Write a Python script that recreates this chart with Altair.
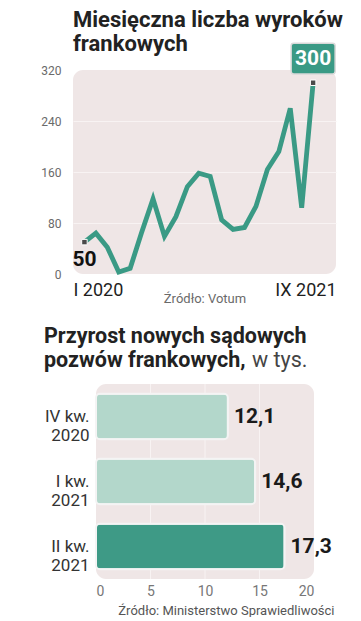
import altair as alt
import pandas as pd

# ---------------- data ----------------
month_labels = ["I 2020", "II 2020", "III 2020", "IV 2020", "V 2020", "VI 2020",
                "VII 2020", "VIII 2020", "IX 2020", "X 2020", "XI 2020", "XII 2020",
                "I 2021", "II 2021", "III 2021", "IV 2021", "V 2021", "VI 2021",
                "VII 2021", "VIII 2021", "IX 2021"]
verdicts = [50, 64, 42, 3, 9, 65, 118, 59, 90, 137, 158, 153,
            85, 70, 73, 106, 164, 192, 260, 104, 300]
y_ticks = [0, 80, 160, 240, 320]

quarters = ["IV kw.|2020", "I kw.|2021", "II kw.|2021"]
lawsuits = [12.1, 14.6, 17.3]
bar_colors = ["#b3d7cb", "#b3d7cb", "#3e9a86"]
x_ticks = [0, 5, 10, 15, 20]

title_top = ["Miesięczna liczba wyroków", "frankowych"]
title_bottom = ["Przyrost nowych sądowych", "pozwów frankowych,"]
unit_text = ["w tys."]
source_top = "Źródło: Votum"
source_bottom = "Źródło: Ministerstwo Sprawiedliwości"

TEAL = "#3a9a85"
BG = "#efe6e6"
GRID = "#f8f3f3"
FONT = "Roboto"
INK = "#222222"


def text_line(txt, x, y, size, weight="bold", color=INK):
    return alt.Chart(pd.DataFrame({"t": [txt]})).mark_text(
        align="left", baseline="alphabetic", fontSize=size, fontWeight=weight,
        color=color, font=FONT,
    ).encode(text="t:N", x=alt.value(x), y=alt.value(y))


# ---------------- top: line chart ----------------
n = len(verdicts)
line_df = pd.DataFrame({"idx": list(range(n)), "month": month_labels, "value": verdicts})
line_df["label"] = line_df["value"].astype(str)

x_enc = alt.X(
    "idx:Q",
    scale=alt.Scale(domain=[-1, n + 1], nice=False, zero=False),
    axis=alt.Axis(
        values=[-1, n + 1],
        labelExpr=f"datum.value < 0 ? '{month_labels[0]}' : '{month_labels[-1]}'",
        labelFlush=True, labelOverlap=False, grid=False, ticks=False, domain=False,
        labelFontSize=18, labelColor="#1e1e1e", labelPadding=7, labelFont=FONT,
        title=source_top, titleFontSize=13, titleFontWeight="normal", titleColor="#6a6a6a",
        titleFont=FONT, titleY=28, titleBaseline="alphabetic",
    ),
)
y_enc = alt.Y(
    "value:Q",
    scale=alt.Scale(domain=[0, 320], nice=False),
    axis=alt.Axis(
        values=y_ticks, title=None, domain=False, ticks=False, labelPadding=12,
        labelFontSize=12, labelColor="#6a6a6a", gridColor=GRID, gridWidth=1,
        gridOpacity=alt.expr("datum.value == 0 || datum.value == 320 ? 0 : 1"),
    ),
)

base = alt.Chart(line_df).encode(x=x_enc, y=y_enc)
line = base.mark_line(color=TEAL, strokeWidth=4.8)
ends = base.transform_filter(f"datum.idx == 0 || datum.idx == {n-1}").mark_point(
    shape="square", size=30, filled=True, fill="#4a4a4a", stroke="white", strokeWidth=1, opacity=1)
first_lbl = base.transform_filter("datum.idx == 0").mark_text(
    dy=18, fontSize=21, fontWeight="bold", color="#111111", font=FONT).encode(text="label:N")
BOX = ("M-0.88,-1.8 L0.88,-1.8 Q1,-1.8 1,-1.68 L1,-0.52 Q1,-0.4 0.88,-0.4 "
       "L-0.88,-0.4 Q-1,-0.4 -1,-0.52 L-1,-1.68 Q-1,-1.8 -0.88,-1.8 Z")
box = base.transform_filter(f"datum.idx == {n-1}").mark_point(
    shape=BOX, size=1936, filled=True, fill=TEAL, stroke="#d9d9d9", strokeWidth=1.5, opacity=1)
last_lbl = base.transform_filter(f"datum.idx == {n-1}").mark_text(
    dy=-24, fontSize=21, fontWeight="bold", color="white", font=FONT).encode(text="label:N")

t_top1 = text_line(title_top[0], 0, -43, 22)
t_top2 = text_line(title_top[1], 0, -19, 22)

top = alt.layer(line, ends, first_lbl, box, last_lbl, t_top1, t_top2).properties(
    width=263, height=204,
    view=alt.ViewBackground(fill=BG, stroke=None, cornerRadius=10),
)

# ---------------- bottom: bar chart ----------------
bar_df = pd.DataFrame({"quarter": quarters, "value": lawsuits, "color": bar_colors})
bar_df["label"] = [f"{v:.1f}".replace(".", ",") for v in lawsuits]

B_W = 241           # plot group width (includes the indent of the bar panel)
B_IND = 23          # indent of the bar panel inside the group
bscale = alt.Scale(domain=[x_ticks[0], x_ticks[-1]], range=[B_IND, B_W], nice=False)

bx = alt.X(
    "value:Q",
    scale=bscale,
    axis=alt.Axis(
        values=x_ticks, domain=False, ticks=False, grid=False, labelPadding=5, labelFontSize=14,
        labelColor="#777777",
        title=source_bottom, titleFontSize=13, titleFontWeight="normal", titleColor="#555555",
        titleFont=FONT, titleX=261, titleAlign="right", titlePadding=6,
    ),
)
by = alt.Y(
    "quarter:N", sort=quarters,
    scale=alt.Scale(paddingInner=0.3, paddingOuter=0.15),
    axis=alt.Axis(
        title=None, labelExpr="split(datum.label, '|')", labelFontSize=17, labelLineHeight=19,
        labelColor="#333333", labelPadding=7, domain=False, ticks=False, grid=False,
        offset=-B_IND,
    ),
)

panel = alt.Chart(pd.DataFrame({"value": [x_ticks[0]], "value_end": [x_ticks[-1]]})).mark_rect(
    color=BG, cornerRadius=10).encode(x=alt.X("value:Q", scale=bscale), x2="value_end:Q")
grid = alt.Chart(pd.DataFrame({"value": x_ticks[1:-1]})).mark_rule(
    color=GRID, strokeWidth=1).encode(x=alt.X("value:Q", scale=bscale))

bbase = alt.Chart(bar_df).encode(x=bx, y=by)
bars = bbase.mark_bar(cornerRadius=4, stroke="#f4f4f4", strokeWidth=2).encode(
    color=alt.Color("color:N", scale=None))
vals = bbase.mark_text(align="left", baseline="middle", dx=6, fontSize=21, fontWeight="bold",
                       color="#1a1a1a", font=FONT).encode(text="label:N")

t_b1 = text_line(title_bottom[0], -29, -41, 21.5)
t_b2 = text_line(title_bottom[1], -29, -17, 21.5)
t_b3 = text_line(unit_text[0], 179, -17, 21.5, weight="normal", color="#444444")

bottom = alt.layer(panel, grid, bars, vals, t_b1, t_b2, t_b3).properties(
    width=B_W, height=195,
)

chart = alt.vconcat(top, bottom, spacing=21).configure(
    font=FONT, padding={"left": 32, "top": 1, "right": 0, "bottom": 0}
).configure_view(stroke=None)

chart.save("out.html", embed_options={"renderer": "svg", "actions": False})
